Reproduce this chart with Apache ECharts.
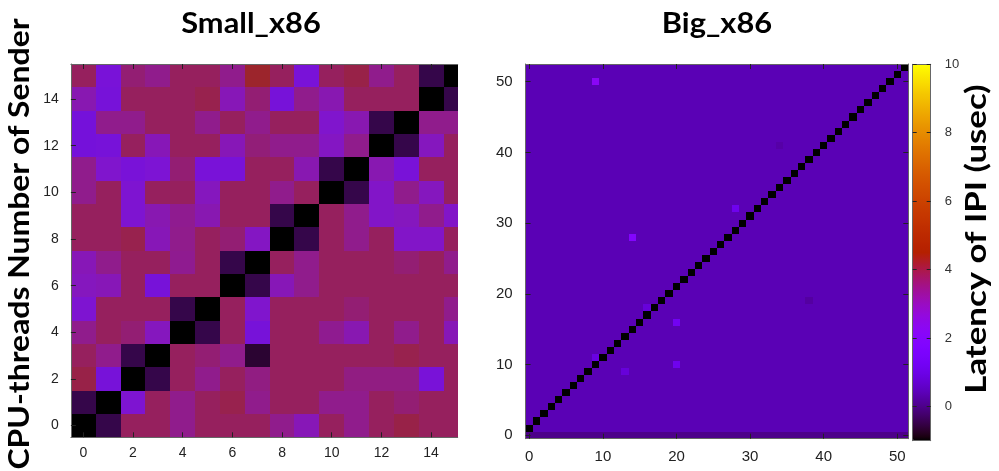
<!DOCTYPE html>
<html><head><meta charset="utf-8">
<script src="https://cdn.jsdelivr.net/npm/echarts@6/dist/echarts.min.js"></script>
<style>html,body{margin:0;padding:0;background:#fff}#c{width:999px;height:471px}</style>
</head><body><div id="c"></div>
<script>
// ---------- data ----------
const smallTitle = 'Small_x86';
const bigTitle = 'Big_x86';
const yTitle = 'CPU-threads Number of Sender';
const cbTitle = 'Latency of IPI (usec)';
const smallTicks = [0, 2, 4, 6, 8, 10, 12, 14];
const bigTicks = [0, 10, 20, 30, 40, 50];
const cbTicks = [0, 2, 4, 6, 8, 10];
const colorMin = -1, colorMax = 10;

// Small_x86 latency matrix, row index = sender (y 0..15), column = receiver (x 0..15)
const smallRow0  = [-1, -0.4, 3.8, 3.8, 3.35, 3.8, 3.8, 3.8, 3.35, 2.8, 3.8, 3.35, 3.8, 4.0, 3.8, 3.8];
const smallRow1  = [-0.4, -1, 2.3, 3.8, 3.35, 3.8, 3.95, 3.35, 3.8, 3.8, 3.35, 3.35, 3.8, 3.6, 3.8, 3.8];
const smallRow2  = [4.0, 1.9, -1, -0.4, 3.8, 3.35, 3.8, 3.45, 3.8, 3.8, 3.8, 3.45, 3.45, 3.45, 2.0, 3.8];
const smallRow3  = [3.8, 3.35, -0.4, -1, 3.8, 3.6, 3.35, -0.6, 3.8, 3.8, 3.8, 3.8, 3.8, 3.95, 3.8, 3.8];
const smallRow4  = [3.35, 3.8, 3.6, 2.7, -1, -0.4, 3.8, 1.9, 3.8, 3.8, 3.3, 2.9, 3.8, 3.35, 3.8, 2.8];
const smallRow5  = [2.3, 3.8, 3.8, 3.8, -0.4, -1, 3.8, 2.4, 3.8, 3.8, 3.8, 3.6, 3.8, 3.8, 3.8, 3.35];
const smallRow6  = [2.7, 2.8, 3.8, 1.9, 3.8, 3.8, -1, -0.4, 2.8, 3.35, 3.8, 3.8, 3.8, 3.8, 3.8, 3.8];
const smallRow7  = [2.8, 3.35, 3.8, 3.8, 3.3, 3.8, -0.4, -1, 3.8, 3.35, 3.8, 3.8, 3.8, 3.6, 3.8, 3.35];
const smallRow8  = [3.8, 3.8, 3.95, 2.8, 3.35, 3.8, 3.6, 2.6, -1, -0.4, 3.8, 3.35, 3.8, 2.5, 2.5, 3.8];
const smallRow9  = [3.8, 3.8, 2.3, 2.9, 3.3, 2.9, 3.8, 3.8, -0.4, -1, 3.8, 3.35, 2.5, 2.7, 3.35, 2.5];
const smallRow10 = [3.35, 3.8, 2.3, 3.8, 3.8, 2.7, 3.8, 3.8, 3.35, 3.8, -1, -0.4, 2.5, 3.35, 2.7, 3.8];
const smallRow11 = [3.35, 2.4, 2.0, 2.2, 3.6, 2.0, 2.0, 3.8, 3.8, 2.9, -0.4, -1, 2.9, 2.0, 3.8, 3.8];
const smallRow12 = [1.8, 1.9, 3.8, 2.8, 3.8, 3.8, 2.8, 3.55, 3.35, 3.35, 2.6, 3.35, -1, -0.4, 2.7, 3.8];
const smallRow13 = [1.8, 3.35, 3.35, 3.8, 3.8, 3.35, 3.8, 3.35, 3.8, 3.8, 2.4, 2.9, -0.4, -1, 3.35, 3.35];
const smallRow14 = [2.9, 1.9, 3.8, 3.8, 3.8, 3.95, 2.8, 3.6, 1.9, 3.35, 2.9, 3.8, 3.8, 3.8, -1, -0.4];
const smallRow15 = [3.8, 2.0, 3.6, 3.35, 3.8, 3.8, 3.35, 4.25, 3.8, 2.0, 3.8, 4.0, 3.35, 3.8, -0.4, -1];
const smallRows = [smallRow0, smallRow1, smallRow2, smallRow3, smallRow4, smallRow5, smallRow6, smallRow7,
  smallRow8, smallRow9, smallRow10, smallRow11, smallRow12, smallRow13, smallRow14, smallRow15];

// Big_x86: 52 receivers (x 0..51) x 53 sender rows (y 0..52)
const bigColumns = 52;
// typical latency read for each sender row (y = 0..52)
const bigRowBase = [0.0,
  0.38, 0.38, 0.38, 0.38, 0.38, 0.38, 0.38, 0.38, 0.38, 0.38,
  0.38, 0.38, 0.38, 0.38, 0.38, 0.38, 0.38, 0.38, 0.38, 0.38,
  0.38, 0.38, 0.38, 0.38, 0.38, 0.38, 0.38, 0.38, 0.38, 0.38,
  0.38, 0.38, 0.38, 0.38, 0.38, 0.38, 0.38, 0.38, 0.38, 0.38,
  0.38, 0.38, 0.38, 0.38, 0.38, 0.38, 0.38, 0.38, 0.38, 0.38,
  0.38, 0.38];
const bigSelfValue = -1;      // black cells: receiver x, sender x+1
const bigSelfOffset = 1;
// individual cells that differ from the row value: [x, y, value]
const bigOutliers = [[9, 50, 2.2], [14, 28, 1.9], [28, 32, 1.1], [20, 16, 1.2], [20, 10, 1.1],
  [13, 9, 0.8], [9, 11, 0.9], [16, 18, 0.8], [38, 19, 0.2], [34, 41, 0.25]];

// ---------- build ----------
const smallData = [];
smallRows.forEach((row, y) => row.forEach((v, x) => smallData.push([x, y, v])));
const outMap = {};
bigOutliers.forEach(o => { outMap[o[0] + ',' + o[1]] = o[2]; });
const bigData = [];
for (let y = 0; y < bigRowBase.length; y++) {
  for (let x = 0; x < bigColumns; x++) {
    let v = bigRowBase[y];
    if (y === x + bigSelfOffset) v = bigSelfValue;
    const k = x + ',' + y;
    if (k in outMap) v = outMap[k];
    bigData.push([x, y, v]);
  }
}

// gnuplot-like palette (rgbformulae 7,5,15)
function paletteColors(n, desat) {
  const out = [];
  for (let i = 0; i < n; i++) {
    const t = i / (n - 1);
    let r = 255 * Math.sqrt(t), g = 255 * t * t * t, b = 255 * Math.max(0, Math.sin(2 * Math.PI * t));
    const L = 0.299 * r + 0.587 * g + 0.114 * b;
    r = r * (1 - desat) + L * desat; g = g * (1 - desat) + L * desat; b = b * (1 - desat) + L * desat;
    out.push('rgb(' + Math.round(r) + ',' + Math.round(g) + ',' + Math.round(b) + ')');
  }
  return out;
}

function cellRender(params, api) {
  const x = api.value(0), y = api.value(1);
  const a = api.coord([x - 0.5, y + 0.5]);
  const b = api.coord([x + 0.5, y - 0.5]);
  const x0 = Math.round(a[0]), y0 = Math.round(a[1]);
  const x1 = Math.round(b[0]), y1 = Math.round(b[1]);
  return { type: 'rect', shape: { x: x0, y: y0, width: x1 - x0, height: y1 - y0 },
    style: { fill: api.visual('color') } };
}

const FONT = '"Liberation Sans", Arial, sans-serif';
const TITLEFONT = 'Lato, "Open Sans", sans-serif';
const lineCol = '#666';
const tickCol = '#222';

function axisBase(min, max, ticks, opts) {
  return Object.assign({
    type: 'value', min: min, max: max, z: 10,
    axisLine: { show: true, onZero: false, lineStyle: { color: lineCol, width: 1 } },
    axisTick: { show: true, inside: true, length: 5, customValues: ticks, lineStyle: { color: tickCol, width: 1 } },
    axisLabel: { show: false, customValues: ticks, color: '#222', fontFamily: FONT, fontSize: 14 },
    splitLine: { show: false }
  }, opts);
}

function titleText(text, x, y, rot, size, sx) {
  return { type: 'text', x: x, y: y, rotation: rot, scaleX: sx, scaleY: 1,
    style: { text: text, font: 'bold ' + size + 'px ' + TITLEFONT, fill: '#000',
      align: 'center', verticalAlign: 'middle', textAlign: 'center', textVerticalAlign: 'middle' } };
}

const chart = echarts.init(document.getElementById('c'), null, { renderer: 'canvas' });
const option = {
  animation: false,
  backgroundColor: '#fff',
  textStyle: { fontFamily: FONT },
  grid: [
    { left: 70.9, top: 64, width: 386.8, height: 373.3, containLabel: false, outerBoundsMode: 'none' },
    { left: 525.6, top: 64, width: 382.7, height: 374.7, containLabel: false, outerBoundsMode: 'none' },
    { left: 912.7, top: 64.3, width: 18, height: 376.4, containLabel: false, outerBoundsMode: 'none' }
  ],
  xAxis: [
    axisBase(-0.5, 15.07, smallTicks, { gridIndex: 0, position: 'bottom',
      axisLabel: { show: true, customValues: smallTicks, color: '#222', fontFamily: FONT, fontSize: 14, margin: 9 } }),
    axisBase(-0.5, 15.07, smallTicks, { gridIndex: 0, position: 'top' }),
    axisBase(-0.5, 51.5, bigTicks, { gridIndex: 1, position: 'bottom',
      axisLabel: { show: true, customValues: bigTicks, color: '#222', fontFamily: FONT, fontSize: 15, margin: 11 } }),
    axisBase(-0.5, 51.5, bigTicks, { gridIndex: 1, position: 'top' }),
    axisBase(0, 1, [], { gridIndex: 2, position: 'bottom', axisTick: { show: false } }),
    axisBase(0, 1, [], { gridIndex: 2, position: 'top', axisTick: { show: false } })
  ],
  yAxis: [
    axisBase(-0.5, 15.5, smallTicks, { gridIndex: 0, position: 'left',
      axisLabel: { show: true, customValues: smallTicks, color: '#222', fontFamily: FONT, fontSize: 14, margin: 12 } }),
    axisBase(-0.5, 52.5, bigTicks, { gridIndex: 1, position: 'left',
      axisLabel: { show: true, customValues: bigTicks, color: '#222', fontFamily: FONT, fontSize: 15, margin: 13 } }),
    axisBase(-0.5, 52.5, bigTicks, { gridIndex: 1, position: 'right' }),
    axisBase(colorMin, colorMax, cbTicks, { gridIndex: 2, position: 'right',
      axisTick: { show: true, inside: true, length: 4, customValues: cbTicks, lineStyle: { color: tickCol } },
      axisLabel: { show: true, customValues: cbTicks, color: '#333', fontFamily: FONT, fontSize: 13, margin: 14 } }),
    axisBase(colorMin, colorMax, cbTicks, { gridIndex: 2, position: 'left',
      axisTick: { show: true, inside: true, length: 4, customValues: cbTicks, lineStyle: { color: tickCol } } })
  ],
  visualMap: [
    { type: 'continuous', seriesIndex: 0, dimension: 2, min: colorMin, max: colorMax, show: false,
      inRange: { color: paletteColors(111, 0.2) } },
    { type: 'continuous', seriesIndex: 1, dimension: 2, min: colorMin, max: colorMax, show: true,
      calculable: false, orient: 'vertical', left: 912.7, top: 64.3, itemWidth: 18, itemHeight: 376.4,
      padding: 0, text: null, showLabel: false, hoverLink: false,
      inRange: { color: paletteColors(111, 0) } }
  ],
  series: [
    { type: 'custom', name: smallTitle, xAxisIndex: 0, yAxisIndex: 0, clip: true,
      encode: { x: 0, y: 1 }, renderItem: cellRender, data: smallData },
    { type: 'custom', name: bigTitle, xAxisIndex: 2, yAxisIndex: 1, clip: true,
      encode: { x: 0, y: 1 }, renderItem: cellRender, data: bigData }
  ],
  graphic: [
    titleText(smallTitle, 251, 24, 0, 28, 1.1),
    titleText(bigTitle, 717, 24, 0, 28, 1.1),
    titleText(yTitle, 20, 244, Math.PI / 2, 29, 1.1),
    titleText(cbTitle, 977, 239, Math.PI / 2, 29, 1.2)
  ]
};
chart.setOption(option);
</script>
</body></html>
